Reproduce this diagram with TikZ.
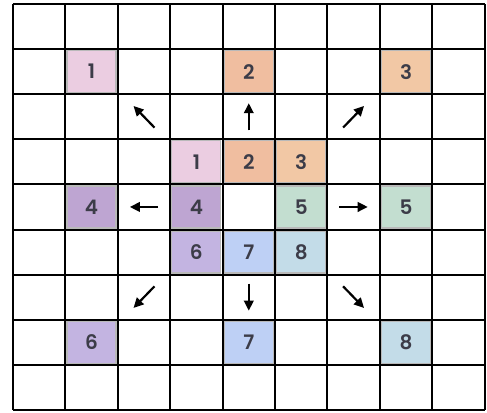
\documentclass[tikz,border=0pt]{standalone}
\usepackage{fontspec}
\setmainfont{Poppins SemiBold}
\usetikzlibrary{arrows.meta}
\definecolor{pinkA}{HTML}{EBCDE1}
\definecolor{orangeA}{HTML}{F0BEA0}
\definecolor{orangeB}{HTML}{F2C8A5}
\definecolor{purpleA}{HTML}{BEA5D2}
\definecolor{greenA}{HTML}{C3DED0}
\definecolor{purpleB}{HTML}{C3B4E1}
\definecolor{blueA}{HTML}{BED0F5}
\definecolor{blueB}{HTML}{C3DCE8}
\definecolor{digit}{HTML}{3C3C48}
\begin{document}
\begin{tikzpicture}[x=52.4pt, y=-45.1pt,
    cell/.style={draw=gray!55, line width=1.2pt, minimum width=49pt, minimum height=42pt,
        inner sep=0pt, text=digit, font=\fontsize{20}{20}\selectfont},
    move/.style={-{Triangle[length=10pt,width=9.5pt]}, line width=2.2pt}]
    \useasboundingbox (-0.248,-0.089) rectangle (9.046,9.047);

    % outer cells: where each neighbour goes
    \node[cell, fill=pinkA] (out1) at (1.5,1.5) {1};
    \node[cell, fill=orangeA] (out2) at (4.5,1.5) {2};
    \node[cell, fill=orangeB] (out3) at (7.5,1.5) {3};
    \node[cell, fill=purpleA] (out4) at (1.5,4.5) {4};
    \node[cell, fill=greenA] (out5) at (7.5,4.5) {5};
    \node[cell, fill=purpleB] (out6) at (1.5,7.5) {6};
    \node[cell, fill=blueA] (out7) at (4.5,7.5) {7};
    \node[cell, fill=blueB] (out8) at (7.5,7.5) {8};

    % inner block of neighbours
    \node[cell, fill=pinkA] (in1) at (3.5,3.5) {1};
    \node[cell, fill=orangeA] (in2) at (4.5,3.5) {2};
    \node[cell, fill=orangeB] (in3) at (5.5,3.5) {3};
    \node[cell, fill=purpleA] (in4) at (3.5,4.5) {4};
    \node[cell, fill=greenA] (in5) at (5.5,4.5) {5};
    \node[cell, fill=purpleB] (in6) at (3.5,5.5) {6};
    \node[cell, fill=blueA] (in7) at (4.5,5.5) {7};
    \node[cell, fill=blueB] (in8) at (5.5,5.5) {8};

    % grid lines
    \foreach \i in {0,...,9} {
        \draw[line width=2pt] (\i,0) -- (\i,9);
        \draw[line width=2pt] (0,\i) -- (9,\i);
    }

    % direction arrows
    \foreach \c/\r/\dx/\dy [count=\k] in {2/2/-0.2/-0.24, 4/2/0/-0.3, 6/2/0.2/-0.24,
        2/4/-0.27/0, 6/4/0.27/0, 2/6/-0.2/0.24, 4/6/0/0.3, 6/6/0.2/0.24} {
        \coordinate (from\k) at ({\c+0.5-\dx},{\r+0.5-\dy});
        \coordinate (to\k) at ({\c+0.5+\dx},{\r+0.5+\dy});
        \draw[move] (from\k) -- (to\k);
    }
\end{tikzpicture}
\end{document}
